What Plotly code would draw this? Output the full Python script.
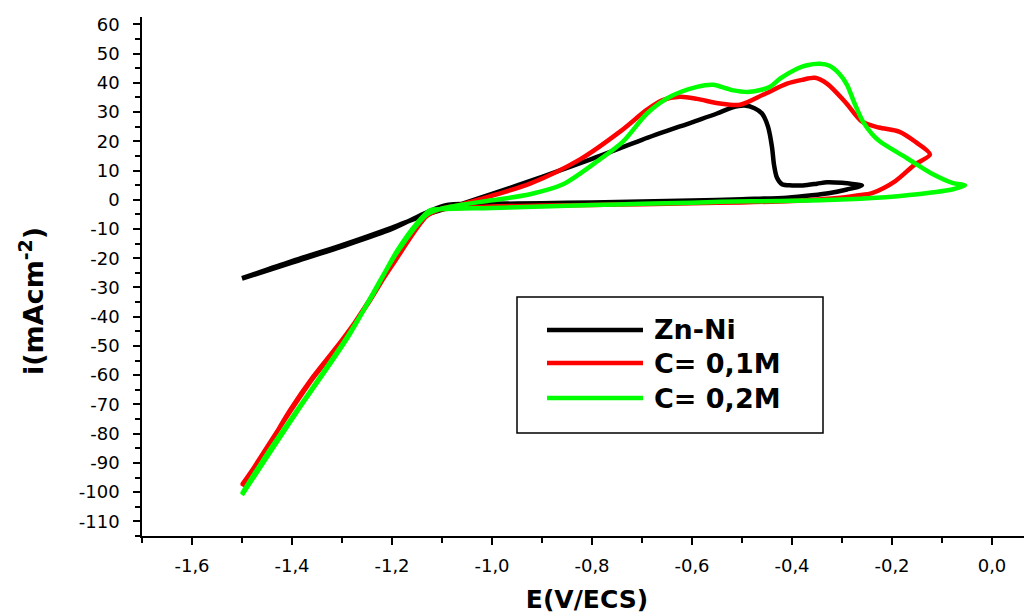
import plotly.graph_objects as go

# ---------------- data ----------------
zn_e = [-1.5, -1.4, -1.3, -1.2, -1.13, -1.05, -1.0, -0.9, -0.8, -0.7, -0.6, -0.55, -0.52,
        -0.495, -0.475, -0.46, -0.448, -0.44, -0.436, -0.43, -0.42, -0.40, -0.378, -0.35,
        -0.33, -0.30, -0.275, -0.26, -0.29, -0.324, -0.36, -0.41, -0.5, -0.6, -0.7, -0.8,
        -0.9, -1.0, -1.09, -1.13, -1.2, -1.3, -1.4, -1.5]
zn_i = [-26.8, -21.0, -15.5, -9.5, -5.0, -0.8, 2.0, 7.8, 14.0, 20.5, 26.5, 29.5, 31.5,
        32.2, 31.3, 29.5, 25.0, 18.0, 12.0, 7.5, 5.3, 4.9, 4.9, 5.5,
        6.0, 5.8, 5.3, 4.9, 3.5, 2.3, 1.5, 0.7, 0.2, -0.3, -0.6, -0.9,
        -1.2, -1.4, -1.8, -4.3, -10.0, -16.0, -21.5, -27.0]

c1_e = [-1.5, -1.45, -1.404, -1.358, -1.3, -1.25, -1.2, -1.16, -1.13, -1.11, -1.08,
        -1.0, -0.9, -0.8, -0.7, -0.6, -0.5, -0.4, -0.34, -0.31, -0.27, -0.24, -0.194,
        -0.154, -0.124, -0.154, -0.186, -0.226, -0.26, -0.294, -0.33, -0.354, -0.38,
        -0.41, -0.458, -0.504, -0.544, -0.59, -0.624, -0.66, -0.69, -0.744, -0.824,
        -0.924, -1.024, -1.07, -1.1, -1.13, -1.2, -1.3, -1.358, -1.404, -1.5]
c1_i = [-97.5, -85.0, -72.0, -60.6, -48.0, -36.0, -22.0, -11.0, -5.0, -3.5, -3.0,
        -2.3, -2.0, -1.8, -1.5, -1.2, -0.9, -0.4, 0.2, 0.6, 1.5, 2.3, 6.3,
        12.1, 15.5, 19.9, 23.3, 24.7, 26.7, 33.5, 39.7, 41.7, 41.0,
        39.7, 35.9, 32.5, 32.9, 34.5, 35.2, 34.0, 30.8, 23.3, 13.8,
        5.5, 0.2, -2.0, -3.0, -5.5, -22.5, -48.5, -61.0, -72.5, -98.0]

c2_e = [-1.5, -1.45, -1.39, -1.29, -1.24, -1.19, -1.15, -1.124, -1.10,
        -1.0, -0.9, -0.8, -0.7, -0.6, -0.544, -0.424, -0.344, -0.24, -0.144, -0.078,
        -0.054, -0.078, -0.118, -0.17, -0.224, -0.24, -0.258, -0.275, -0.29, -0.305,
        -0.325, -0.344, -0.37,
        -0.39, -0.424, -0.444, -0.484, -0.52, -0.558, -0.59, -0.644, -0.69, -0.738,
        -0.79, -0.858, -0.924, -1.0, -1.058, -1.1, -1.13, -1.19, -1.29, -1.39, -1.5]
c2_i = [-100.5, -87.0, -72.0, -47.0, -33.0, -17.5, -8.0, -3.6, -3.2,
        -2.8, -2.3, -1.8, -1.4, -1.0, -0.7, -0.4, -0.2, 0.6, 2.0, 3.6,
        4.9, 5.7, 8.7, 14.2, 19.9, 22.5, 26.7, 33.0, 39.3, 43.0,
        45.8, 46.5, 46.0,
        44.8, 41.4, 38.6, 36.9, 37.5, 39.3, 38.6, 35.2, 29.5, 19.9,
        13.1, 5.3, 1.9, -0.2, -1.6, -3.0, -5.0, -18.0, -47.5, -72.5, -101.0]

series_names = ["Zn-Ni", "C= 0,1M", "C= 0,2M"]

x_tickvals = [-1.6, -1.4, -1.2, -1.0, -0.8, -0.6, -0.4, -0.2, 0.0]
x_ticktext = ["-1,6", "-1,4", "-1,2", "-1,0", "-0,8", "-0,6", "-0,4", "-0,2", "0,0"]
y_tickvals = list(range(60, -111, -10))
y_ticktext = [str(v) for v in y_tickvals]

x_title = "E(V/ECS)"
y_title = "i(mAcm<sup>-2</sup>)"

# ---------------- layout geometry ----------------
# the page body has an 8px default margin, so the figure is 8px smaller
W, H = 1024, 606
ML, MR, MT, MB = 134, 0, 9, 78
PW, PH = W - ML - MR, H - MT - MB


def px_x(px):
    return (px - ML) / PW


def px_y(py):
    return (H - MB - py) / PH


colors = ["#000000", "#ff0000", "#00ff00"]
fig = go.Figure()
for e, i, name, c in zip([zn_e, c1_e, c2_e], [zn_i, c1_i, c2_i], series_names, colors):
    fig.add_trace(go.Scatter(x=e, y=i, mode="lines", name=name, showlegend=False,
                             line=dict(color=c, width=4.5, shape="spline", smoothing=0.8)))

# ---- legend box (drawn as layout shapes + text) ----
shapes = [dict(type="rect", xref="paper", yref="paper",
               x0=px_x(509), x1=px_x(815), y0=px_y(425), y1=px_y(289),
               line=dict(color="black", width=1.5), fillcolor="white", layer="above")]
annotations = []
row_y = [322, 355, 390]
for name, c, ry in zip(series_names, colors, row_y):
    shapes.append(dict(type="line", xref="paper", yref="paper",
                       x0=px_x(539), x1=px_x(635), y0=px_y(ry), y1=px_y(ry),
                       line=dict(color=c, width=4.5), layer="above"))
    annotations.append(dict(xref="paper", yref="paper", x=px_x(644), y=px_y(ry),
                            xanchor="left", yanchor="middle", showarrow=False,
                            text="<b>%s</b>" % name,
                            font=dict(family="DejaVu Sans, Arial", size=27, color="black")))

# y-axis title (placed like the reference, slightly below the plot centre)
annotations.append(dict(xref="paper", yref="paper", x=px_x(23), y=px_y(293),
                        xanchor="center", yanchor="middle", showarrow=False, textangle=-90,
                        text="<b>%s</b>" % y_title,
                        font=dict(family="DejaVu Sans, Arial", size=27, color="black")))

fig.update_layout(
    width=W, height=H,
    margin=dict(l=ML, r=MR, t=MT, b=MB),
    plot_bgcolor="white", paper_bgcolor="white",
    showlegend=False,
    shapes=shapes, annotations=annotations,
)

fig.update_xaxes(
    range=[-1.7, 0.08], showgrid=False, zeroline=False,
    showline=True, linecolor="black", linewidth=1.5,
    ticks="outside", ticklen=7, tickwidth=1.5, tickcolor="black",
    tickvals=x_tickvals, ticktext=x_ticktext,
    minor=dict(dtick=0.1, tick0=0, ticks="outside", ticklen=5, tickwidth=1.5, tickcolor="black"),
    tickfont=dict(family="DejaVu Sans, Arial", size=18, color="black"),
    ticklabelstandoff=6,
    title=dict(text="<b>%s</b>" % x_title, standoff=18,
               font=dict(family="DejaVu Sans, Arial", size=25, color="black")),
)
fig.update_yaxes(
    range=[-115, 62.5], showgrid=False, zeroline=False,
    showline=True, linecolor="black", linewidth=1.5,
    ticks="outside", ticklen=7, tickwidth=1.5, tickcolor="black",
    tickvals=y_tickvals, ticktext=y_ticktext,
    minor=dict(dtick=5, tick0=0, ticks="outside", ticklen=5, tickwidth=1.5, tickcolor="black"),
    tickfont=dict(family="DejaVu Sans, Arial", size=18, color="black"),
    ticklabelstandoff=10,
)

fig.write_html("out.html")
